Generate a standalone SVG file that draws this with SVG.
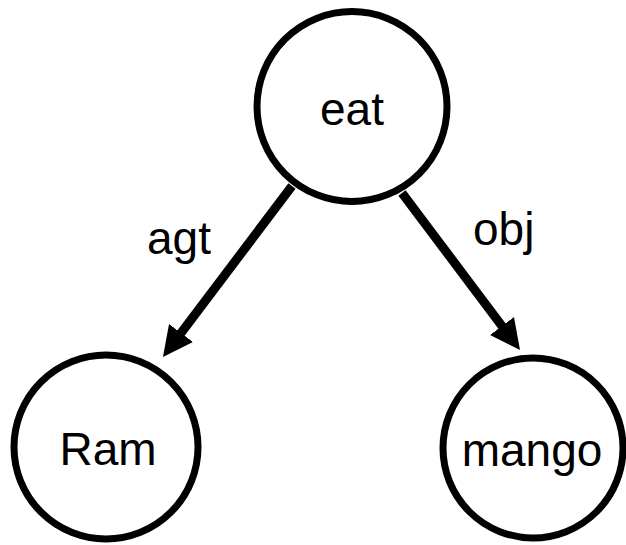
<svg xmlns="http://www.w3.org/2000/svg" width="626" height="545" viewBox="0 0 626 545">
<style>
.node{fill:#fff;stroke:#000;stroke-width:7}
.lbl{font-family:"Liberation Sans",Arial,sans-serif;font-size:46px;fill:#000}
.edge{stroke:#000;stroke-width:9;fill:none}
</style>
<defs>
<marker id="ah" markerUnits="userSpaceOnUse" markerWidth="32" markerHeight="32" refX="10" refY="15" orient="auto">
<path d="M0,0 L30,15 L0,30 Z" fill="#000"/>
</marker>
</defs>
<g id="edges">
<line class="edge" x1="292" y1="186" x2="175" y2="341" marker-end="url(#ah)"/>
<line class="edge" x1="402" y1="193" x2="508" y2="334" marker-end="url(#ah)"/>
<text class="lbl" x="147" y="254">agt</text>
<text class="lbl" x="473" y="245">obj</text>
</g>
<g id="eat">
<circle class="node" cx="352" cy="106.5" r="95"/>
<text class="lbl" x="352" y="125" text-anchor="middle">eat</text>
</g>
<g id="ram">
<circle class="node" cx="106" cy="447" r="92"/>
<text class="lbl" x="108" y="465" text-anchor="middle">Ram</text>
</g>
<g id="mango">
<circle class="node" cx="533" cy="448" r="90"/>
<text class="lbl" x="532" y="466" text-anchor="middle">mango</text>
</g>
</svg>
